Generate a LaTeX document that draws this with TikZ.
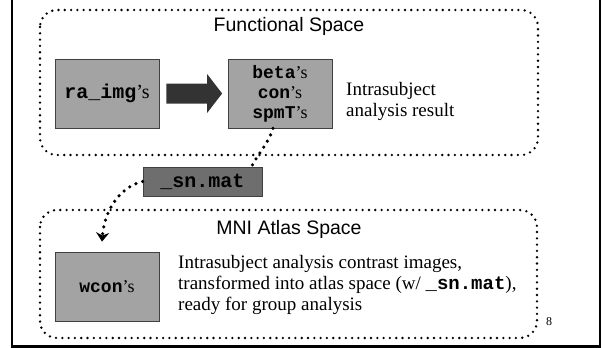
\documentclass[tikz,border=0pt]{standalone}
\usepackage{fontspec}
\setmainfont{Liberation Serif}
\setsansfont{Liberation Sans}
\setmonofont{Liberation Mono}
\usetikzlibrary{arrows.meta}

\definecolor{boxgray}{gray}{0.64}
\definecolor{matgray}{gray}{0.43}
\definecolor{arrowgray}{gray}{0.2}
\newcommand{\cw}[1]{{\ttfamily\bfseries #1}}

\begin{document}
\begin{tikzpicture}[x=1pt,y=-1pt,
	imgbox/.style={draw=black!75,line width=.8pt,fill=boxgray,minimum width=104pt,minimum height=69pt,inner sep=0pt},
	title/.style={font=\sffamily\fontsize{19.5}{22}\selectfont,inner sep=0pt},
	note/.style={font=\fontsize{19}{21}\selectfont,align=left,anchor=west,inner sep=0pt},
	dotbox/.style={line width=2.6pt,line cap=round,dash pattern=on 0pt off 6.3pt,rounded corners=17pt},
	dotlink/.style={line width=3.6pt,line cap=round,dash pattern=on 0pt off 7pt}]
	\useasboundingbox (0,0) rectangle (608,348);
	% slide frame
	\draw[line width=2.5pt] (12,0) -- (12,346.5) -- (600,346.5) -- (600,0);

	% functional space
	\draw[dotbox] (40,10) rectangle (538,155);
	\node[title] (ftitle) at (289,26) {Functional Space};
	\node[imgbox,font=\fontsize{20}{22}\selectfont] (raimg) at (107,93.5) {\cw{ra\_img}'s};
	\node[imgbox,align=center,font=\fontsize{18}{20}\selectfont] (res) at (280,93.5) {\cw{beta}'s\\\cw{con}'s\\\cw{spmT}'s};
	\node[note] (restext) at (346,101) {Intrasubject\\analysis result};
	% block arrow
	\fill[arrowgray] ([xshift=7pt,yshift=10pt]raimg.east) -- ([xshift=-20.5pt,yshift=10pt]res.west)
		-- ([xshift=-20.5pt,yshift=19.5pt]res.west) -- ([xshift=-5.5pt]res.west)
		-- ([xshift=-20.5pt,yshift=-19.5pt]res.west) -- ([xshift=-20.5pt,yshift=-10pt]res.west)
		-- ([xshift=7pt,yshift=-10pt]raimg.east) -- cycle;

	% normalisation parameters
	\node[imgbox,fill=matgray,minimum width=119pt,minimum height=29pt,font=\fontsize{20}{22}\selectfont] (sn) at (202.5,181.5) {\cw{\_sn.mat}};

	% atlas space
	\draw[dotbox] (40,210) rectangle (537,338);
	\node[title] (mtitle) at (289,229) {MNI Atlas Space};
	\node[imgbox,font=\fontsize{18}{20}\selectfont] (wcon) at (107,286.5) {\cw{wcon}'s};
	\node[note] (wtext) at (178,284.6) {Intrasubject analysis contrast images,\\transformed into atlas space (w/ \cw{\_sn.mat}),\\ready for group analysis};

	\draw[dotlink] ([xshift=-7pt]res.south) .. controls +(-4,14) and +(6,-12) .. ([xshift=49pt]sn.north);
	\draw[dotlink,-{Stealth[length=9pt,width=13pt]}] (sn.west) .. controls +(-25,6) and +(2,-28) .. ([xshift=-5pt,yshift=10pt]wcon.north);

	\node[font=\fontsize{12}{14}\selectfont,inner sep=0pt] (pnum) at (549,322) {8};
\end{tikzpicture}
\end{document}
